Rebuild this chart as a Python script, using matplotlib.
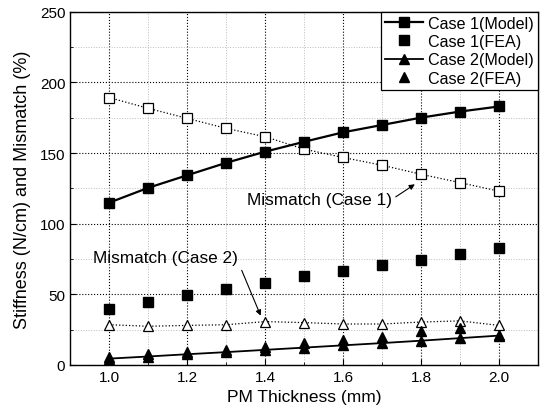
import matplotlib
matplotlib.use("Agg")
import matplotlib.pyplot as plt
from matplotlib.ticker import MultipleLocator

plt.rcParams['font.family'] = ['Liberation Sans', 'DejaVu Sans']

thickness = [1.0, 1.1, 1.2, 1.3, 1.4, 1.5, 1.6, 1.7, 1.8, 1.9, 2.0]
case1_model = [114.9, 125.4, 134.3, 143.1, 151.0, 158.0, 164.7, 169.9, 175.1, 179.4, 183.0]
case1_fea = [39.6, 44.3, 49.5, 53.8, 58.0, 63.3, 66.8, 70.9, 74.4, 78.7, 82.7]
mismatch1 = [189.3, 181.7, 174.6, 167.5, 161.6, 152.8, 146.9, 141.4, 135.0, 129.1, 123.0]
case2_model = [4.5, 6.0, 7.6, 9.1, 10.7, 12.3, 13.9, 15.5, 17.2, 19.0, 20.8]
case2_fea = [6.0, 7.5, 9.4, 10.8, 12.8, 15.6, 18.0, 19.8, 23.8, 26.0, 21.5]
mismatch2 = [28.5, 27.4, 28.0, 28.5, 30.7, 30.0, 29.0, 29.0, 30.4, 31.2, 28.0]

fig = plt.figure(figsize=(5.44, 4.14), dpi=100)
ax = fig.add_axes([0.129, 0.116, 0.860, 0.853])

ax.plot(thickness, mismatch1, linestyle=':', color='black', linewidth=0.9,
        marker='s', markersize=6.5, markerfacecolor='white', markeredgecolor='black',
        markeredgewidth=0.9)
ax.plot(thickness, mismatch2, linestyle=':', color='black', linewidth=0.9,
        marker='^', markersize=6.5, markerfacecolor='white', markeredgecolor='black',
        markeredgewidth=0.9)
ax.plot(thickness, case1_model, '-', color='black', linewidth=1.6,
        marker='s', markersize=6.5, label='Case 1(Model)')
ax.plot(thickness, case1_fea, linestyle='none', color='black',
        marker='s', markersize=6.5, label='Case 1(FEA)')
ax.plot(thickness, case2_model, '-', color='black', linewidth=1.3,
        marker='^', markersize=6.5, label='Case 2(Model)')
ax.plot(thickness, case2_fea, linestyle='none', color='black',
        marker='^', markersize=6.5, label='Case 2(FEA)')

ax.set_xlim(0.9, 2.1)
ax.set_ylim(0, 250)
ax.xaxis.set_major_locator(MultipleLocator(0.2))
ax.xaxis.set_minor_locator(MultipleLocator(0.1))
ax.yaxis.set_major_locator(MultipleLocator(50))
ax.yaxis.set_minor_locator(MultipleLocator(25))
ax.set_xticks([1.0, 1.2, 1.4, 1.6, 1.8, 2.0])
ax.set_xticklabels(['1.0', '1.2', '1.4', '1.6', '1.8', '2.0'])

ax.grid(which='major', linestyle=':', color='black', linewidth=0.8)
ax.grid(which='minor', linestyle=':', color='#bbbbbb', linewidth=0.7)
ax.tick_params(which='both', direction='in', top=False, right=False, labelsize=11)
ax.tick_params(which='major', length=4)
ax.tick_params(which='minor', length=2)
for s in ax.spines.values():
    s.set_linewidth(1.0)

ax.set_xlabel('PM Thickness (mm)', fontsize=12.5)
ax.set_ylabel('Stiffness (N/cm) and Mismatch (%)', fontsize=13, labelpad=6)

leg = ax.legend(loc='upper right', fontsize=11.6, frameon=True, fancybox=False,
                edgecolor='black', framealpha=1, borderaxespad=0.0,
                handlelength=2.4, labelspacing=0.2, borderpad=0.25, handletextpad=0.3)
leg.get_frame().set_linewidth(0.9)

ax.text(1.353, 117, 'Mismatch (Case 1)', ha='left', va='center', fontsize=12.4)
ax.annotate('', xy=(1.79, 129), xytext=(1.735, 119),
            arrowprops=dict(arrowstyle='-|>', color='black', linewidth=0.8,
                            mutation_scale=8, shrinkA=0, shrinkB=2))
ax.text(0.959, 76, 'Mismatch (Case 2)', ha='left', va='center', fontsize=12.4)
ax.annotate('', xy=(1.39, 34), xytext=(1.34, 67),
            arrowprops=dict(arrowstyle='-|>', color='black', linewidth=0.8,
                            mutation_scale=8, shrinkA=0, shrinkB=1))

fig.savefig('out.png', dpi=100)
